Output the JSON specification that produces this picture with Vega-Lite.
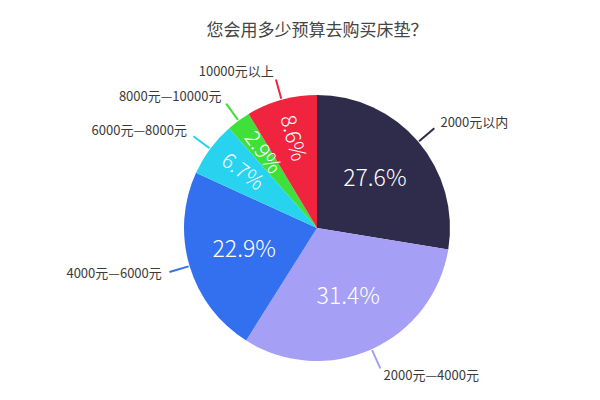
{
  "$schema": "https://vega.github.io/schema/vega-lite/v6.json",
  "width": 566,
  "height": 376,
  "autosize": "none",
  "padding": {"left": 34, "top": 40, "right": 0, "bottom": 0},
  "title": {
    "text": "您会用多少预算去购买床垫？",
    "font": "Noto Sans CJK SC",
    "fontSize": 17,
    "fontWeight": "normal",
    "color": "#444444",
    "offset": 0
  },
  "data": {
    "values": [
      {"category": "2000元以内", "pct": 27.6},
      {"category": "2000元—4000元", "pct": 31.4},
      {"category": "4000元—6000元", "pct": 22.9},
      {"category": "6000元—8000元", "pct": 6.7},
      {"category": "8000元—10000元", "pct": 2.9},
      {"category": "10000元以上", "pct": 8.6}
    ]
  },
  "transform": [
    {"window": [{"op": "row_number", "as": "idx"}, {"op": "sum", "field": "pct", "as": "cum"}]},
    {"calculate": "datum.cum - datum.pct / 2", "as": "mid"},
    {"calculate": "datum.mid / 100.1 * 360 - 270", "as": "rot"},
    {"calculate": "datum.pct + '%'", "as": "pctLabel"}
  ],
  "encoding": {
    "color": {
      "field": "category",
      "type": "nominal",
      "scale": {
        "domain": ["2000元以内", "2000元—4000元", "4000元—6000元", "6000元—8000元", "8000元—10000元", "10000元以上"],
        "range": ["#2e2b4b", "#a5a0f5", "#3370f0", "#27d3ef", "#3fe03a", "#f0243f"]
      },
      "legend": null
    }
  },
  "layer": [
    {
      "mark": {"type": "arc", "outerRadius": 133},
      "encoding": {
        "theta": {"field": "pct", "type": "quantitative", "stack": true, "scale": {"domain": [0, 100.1]}},
        "order": {"field": "idx", "type": "quantitative"}
      }
    },
    {
      "mark": {"type": "arc", "innerRadius": 134, "outerRadius": 154, "filled": false, "strokeWidth": 2},
      "encoding": {
        "theta": {"field": "mid", "type": "quantitative", "stack": null},
        "theta2": {"field": "mid"}
      }
    },
    {
      "transform": [{"filter": "datum.pct >= 10"}],
      "mark": {"type": "text", "radius": 76, "font": "Noto Sans CJK SC", "fontSize": 23, "fontWeight": 300, "baseline": "middle"},
      "encoding": {
        "theta": {"field": "mid", "type": "quantitative", "stack": null},
        "text": {"field": "pctLabel"},
        "color": {"value": "white"}
      }
    },
    {
      "transform": [{"filter": "datum.pct < 10"}],
      "mark": {"type": "text", "radius": 93, "font": "Noto Sans CJK SC", "fontSize": 21, "fontWeight": 300, "baseline": "middle"},
      "encoding": {
        "theta": {"field": "mid", "type": "quantitative", "stack": null},
        "angle": {"field": "rot", "type": "quantitative", "scale": null},
        "text": {"field": "pctLabel"},
        "color": {"value": "white"}
      }
    },
    {
      "transform": [{"filter": "datum.mid < 50"}],
      "mark": {"type": "text", "radius": 162, "align": "left", "baseline": "middle", "font": "Noto Sans CJK SC", "fontSize": 13},
      "encoding": {
        "theta": {"field": "mid", "type": "quantitative", "stack": null},
        "text": {"field": "category"},
        "color": {"value": "#3a3a3a"}
      }
    },
    {
      "transform": [{"filter": "datum.mid >= 50"}],
      "mark": {"type": "text", "radius": 162, "align": "right", "baseline": "middle", "font": "Noto Sans CJK SC", "fontSize": 13},
      "encoding": {
        "theta": {"field": "mid", "type": "quantitative", "stack": null},
        "text": {"field": "category"},
        "color": {"value": "#3a3a3a"}
      }
    }
  ]
}
